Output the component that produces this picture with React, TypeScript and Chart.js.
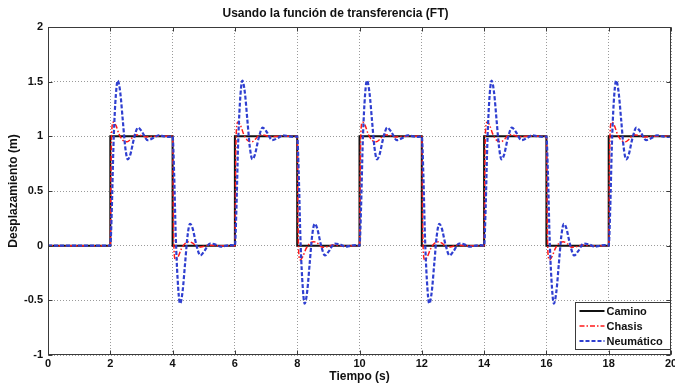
import React, { useEffect, useRef } from "react";
import { Chart, registerables } from "chart.js";

Chart.register(...registerables);

// ---- data ----
const chartTitle = "Usando la función de transferencia (FT)";
const xTitle = "Tiempo (s)";
const yTitle = "Desplazamiento (m)";
const seriesNames = ["Camino", "Chasis", "Neumático"];

// road (Camino) square wave: switching instants and level after each switch
const stepTimes = [2, 4, 6, 8, 10, 12, 14, 16, 18, 20];
const stepLevels = [1, 0, 1, 0, 1, 0, 1, 0, 1, 0];

// tyre (Neumático) response after a switch: time offsets and values
const blueOffsets = [0, 0.05, 0.1, 0.16, 0.24, 0.32, 0.4, 0.48, 0.56, 0.64, 0.76, 0.89, 1.02, 1.2, 1.38, 1.55, 1.72, 1.88];
const blueUp = [0, 0.35, 0.9, 1.3, 1.51, 1.4, 1.15, 0.9, 0.79, 0.83, 0.98, 1.08, 1.04, 0.965, 0.985, 1.01, 1.0, 0.995];
const blueDown = [1, 0.65, 0.1, -0.3, -0.53, -0.42, -0.165, 0.09, 0.2, 0.16, 0.01, -0.09, -0.05, 0.02, 0.01, -0.01, 0.0, 0.005];

// chassis (Chasis) response after a switch
const redOffsets = [0, 0.03, 0.06, 0.1, 0.18, 0.28, 0.4, 0.54, 0.66, 0.8, 0.95, 1.15, 1.4, 1.7];
const redUp = [0, 0.85, 1.1, 1.13, 1.1, 1.02, 0.965, 0.95, 0.975, 1.015, 1.01, 0.995, 1.0, 1.0];
const redDown = [1, 0.15, -0.1, -0.13, -0.1, -0.03, 0.02, 0.035, 0.02, -0.015, -0.01, 0.005, 0, 0];

// axis tick labels
const xTickLabels = ["0", "2", "4", "6", "8", "10", "12", "14", "16", "18", "20"];
const yTickLabels = ["-1", "-0.5", "0", "0.5", "1", "1.5", "2"];

const X_MIN = 0;
const X_MAX = 20;
const Y_MIN = -1;
const Y_MAX = 2;

type Pt = { x: number; y: number };

function buildStep(): Pt[] {
  const pts: Pt[] = [{ x: X_MIN, y: 0 }];
  let level = 0;
  stepTimes.forEach((t, i) => {
    pts.push({ x: t, y: level });
    level = stepLevels[i];
    pts.push({ x: t, y: level });
  });
  return pts;
}

function buildResponse(offsets: number[], up: number[], down: number[]): Pt[] {
  const pts: Pt[] = [{ x: X_MIN, y: 0 }];
  let last = 0;
  stepTimes.forEach((t, i) => {
    if (t >= X_MAX) return;
    const vals = stepLevels[i] === 1 ? up : down;
    offsets.forEach((o, j) => pts.push({ x: t + o, y: vals[j] }));
    last = stepLevels[i];
  });
  pts.push({ x: X_MAX, y: last });
  return pts;
}

const FONT = "'Liberation Sans', Arial, Helvetica, sans-serif";
const FRAME = "#3a3a3a";

const styles = [
  { color: "#111111", width: 2, dash: [] as number[] },
  { color: "#ff1a1a", width: 1.5, dash: [5, 2, 1.5, 2] },
  { color: "#2f3fd0", width: 2.2, dash: [4, 2] },
];

const framePlugin = {
  id: "matlabFrame",
  afterDatasetsDraw(chart: any) {
    const { ctx, chartArea: a, scales } = chart;
    const l = Math.round(a.left) + 0.5;
    const r = Math.round(a.right) - 0.5;
    const t = Math.round(a.top) + 0.5;
    const b = Math.round(a.bottom) - 0.5;
    ctx.save();
    ctx.strokeStyle = FRAME;
    ctx.lineWidth = 1;
    ctx.setLineDash([]);
    ctx.strokeRect(l, t, r - l, b - t);
    // inner tick marks on all four sides
    const tl = 4;
    ctx.beginPath();
    scales.x.ticks.forEach((tk: any) => {
      const px = Math.round(scales.x.getPixelForValue(tk.value)) + 0.5;
      ctx.moveTo(px, b);
      ctx.lineTo(px, b - tl);
      ctx.moveTo(px, t);
      ctx.lineTo(px, t + tl);
    });
    scales.y.ticks.forEach((tk: any) => {
      const py = Math.round(scales.y.getPixelForValue(tk.value)) + 0.5;
      ctx.moveTo(l, py);
      ctx.lineTo(l + tl, py);
      ctx.moveTo(r, py);
      ctx.lineTo(r - tl, py);
    });
    ctx.stroke();

    // legend box in the lower right corner
    const bw = 95;
    const bh = 47;
    const bx = Math.round(a.right) - 1 - bw + 0.5;
    const by = Math.round(a.bottom) - 6 - bh + 0.5;
    ctx.fillStyle = "#ffffff";
    ctx.fillRect(bx, by, bw, bh);
    ctx.strokeStyle = FRAME;
    ctx.strokeRect(bx, by, bw, bh);
    ctx.font = `bold 11px ${FONT}`;
    ctx.textBaseline = "middle";
    ctx.textAlign = "left";
    chart.data.datasets.forEach((ds: any, i: number) => {
      const st = styles[i];
      const yy = by + 8.5 + i * 15;
      ctx.beginPath();
      ctx.strokeStyle = st.color;
      ctx.lineWidth = st.width;
      ctx.setLineDash(st.dash);
      ctx.moveTo(bx + 4, yy);
      ctx.lineTo(bx + 29, yy);
      ctx.stroke();
      ctx.setLineDash([]);
      ctx.fillStyle = "#111111";
      ctx.fillText(ds.label, bx + 31, yy + 0.5);
    });
    ctx.restore();
  },
};

export default function App() {
  const canvasRef = useRef<HTMLCanvasElement | null>(null);

  useEffect(() => {
    document.body.style.margin = "0";
    const canvas = canvasRef.current;
    if (!canvas) return;

    const dataSeries = [
      buildStep(),
      buildResponse(redOffsets, redUp, redDown),
      buildResponse(blueOffsets, blueUp, blueDown),
    ];

    const chart = new Chart(canvas, {
      type: "line",
      data: {
        datasets: dataSeries.map((d, i) => ({
          label: seriesNames[i],
          data: d,
          borderColor: styles[i].color,
          backgroundColor: styles[i].color,
          borderWidth: styles[i].width,
          borderDash: styles[i].dash,
          pointRadius: 0,
          fill: false,
          tension: 0,
          cubicInterpolationMode: i === 0 ? "default" : "monotone",
          order: 2 - i,
        })),
      },
      options: {
        animation: false,
        responsive: false,
        maintainAspectRatio: false,
        layout: { padding: { left: 0, right: 4, top: 0, bottom: 0 } },
        plugins: {
          legend: { display: false },
          tooltip: { enabled: false },
          title: {
            display: true,
            text: chartTitle,
            color: "#111111",
            font: { family: FONT, size: 12, weight: "bold" },
            padding: { top: 6, bottom: 6.6 },
          },
        },
        scales: {
          x: {
            type: "linear",
            min: X_MIN,
            max: X_MAX,
            ticks: {
              stepSize: 2,
              padding: 2,
              color: "#111111",
              font: { family: FONT, size: 11, weight: "bold" },
              maxRotation: 0,
              callback: (_v: any, i: number) => xTickLabels[i],
            },
            grid: { color: "#9a9a9a", lineWidth: 1, drawTicks: false },
            border: { display: false, dash: [1, 2] },
            title: {
              display: true,
              text: xTitle,
              color: "#111111",
              font: { family: FONT, size: 12, weight: "bold" },
              padding: { top: 0, bottom: 3 },
            },
            afterFit: (s: any) => {
              s.height = 32;
              s.paddingLeft = 0;
              s.paddingRight = 0;
            },
          },
          y: {
            type: "linear",
            min: Y_MIN,
            max: Y_MAX,
            ticks: {
              stepSize: 0.5,
              padding: 5,
              color: "#111111",
              font: { family: FONT, size: 11, weight: "bold" },
              callback: (_v: any, i: number) => yTickLabels[i],
            },
            grid: { color: "#9a9a9a", lineWidth: 1, drawTicks: false },
            border: { display: false, dash: [1, 2] },
            title: {
              display: true,
              text: yTitle,
              color: "#111111",
              font: { family: FONT, size: 12, weight: "bold" },
              padding: { top: 6, bottom: 0 },
            },
            afterFit: (s: any) => {
              s.width = 48;
              s.paddingTop = 0;
              s.paddingBottom = 0;
            },
          },
        },
      },
      plugins: [framePlugin],
    } as any);

    return () => chart.destroy();
  }, []);

  return (
    <div style={{ position: "absolute", left: 0, top: 0, width: 675, height: 387, background: "#ffffff" }}>
      <canvas ref={canvasRef} width={675} height={387} />
    </div>
  );
}
